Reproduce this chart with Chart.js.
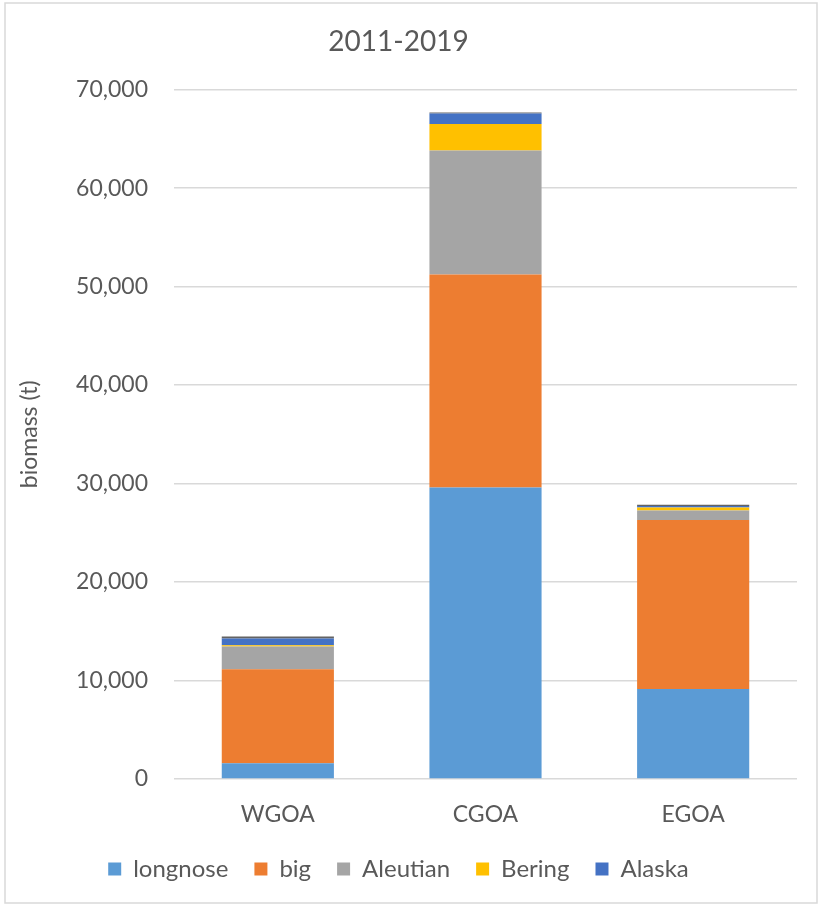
<!DOCTYPE html>
<html>
<head>
<meta charset="utf-8">
<script src="https://cdn.jsdelivr.net/npm/chart.js@4"></script>
<style>
  html, body { margin: 0; padding: 0; background: #fff; }
  #wrap { width: 821px; height: 906px; position: relative; }
</style>
</head>
<body>
<div id="wrap"><canvas id="myChart" width="821" height="906"></canvas></div>
<script>
const regions = ['WGOA', 'CGOA', 'EGOA'];
const longnose = [1600, 29600, 9150];
const big = [9550, 21620, 17140];
const aleutian = [2300, 12600, 980];
const bering = [140, 2680, 300];
const alaska = [670, 1080, 140];
const other = [200, 100, 140]; // thin dark cap on top of each bar, not in legend

const seriesNames = ['longnose', 'big', 'Aleutian', 'Bering', 'Alaska', 'other'];
const seriesData = [longnose, big, aleutian, bering, alaska, other];
const colours = ['#5B9BD5', '#ED7D31', '#A5A5A5', '#FFC000', '#4472C4', '#636363'];

const FONT = 'Lato, "Open Sans", sans-serif';
const TXT = '#595959';

const frame = {
  id: 'frame',
  beforeDraw(chart) {
    const c = chart.ctx;
    c.save();
    c.fillStyle = '#fff';
    c.fillRect(0, 0, chart.width, chart.height);
    c.strokeStyle = '#d9d9d9';
    c.lineWidth = 1.5;
    c.strokeRect(5, 3, 812, 900);
    c.restore();
  }
};

const ctx = document.getElementById('myChart').getContext('2d');
new Chart(ctx, {
  type: 'bar',
  data: {
    labels: regions,
    datasets: seriesNames.map((n, i) => ({
      label: n,
      data: seriesData[i],
      backgroundColor: colours[i],
      borderWidth: 0,
      barPercentage: 0.54,
      categoryPercentage: 1
    }))
  },
  options: {
    responsive: false,
    animation: false,
    devicePixelRatio: 1,
    layout: { padding: { left: 0, right: 24, top: 0, bottom: 15 } },
    scales: {
      x: {
        stacked: true,
        grid: { display: false, drawTicks: false },
        border: { display: false },
        ticks: { color: TXT, padding: 22, font: { family: FONT, size: 23 } },
        afterFit: s => { s.height = 52; }
      },
      y: {
        stacked: true,
        min: 0,
        max: 70000,
        grid: { color: '#d9d9d9', lineWidth: 1.5, drawTicks: false },
        border: { display: false },
        ticks: {
          stepSize: 10000,
          color: TXT,
          padding: 26,
          font: { family: FONT, size: 23 },
          callback: v => v.toLocaleString('en-US')
        },
        title: {
          display: true,
          text: 'biomass (t)',
          color: TXT,
          font: { family: FONT, size: 23 },
          padding: { top: 16, bottom: 0 }
        },
        afterFit: s => { s.width = 174; }
      }
    },
    plugins: {
      title: {
        display: true,
        text: '2011-2019',
        color: TXT,
        font: { family: FONT, size: 28, weight: 'normal' },
        padding: { top: 25, bottom: 31 }
      },
      legend: {
        position: 'bottom',
        labels: {
          color: TXT,
          font: { family: FONT, size: 24 },
          boxWidth: 13,
          boxHeight: 13,
          padding: 26,
          filter: item => item.text !== 'other'
        }
      },
      tooltip: { enabled: false }
    }
  },
  plugins: [frame]
});
</script>
</body>
</html>
